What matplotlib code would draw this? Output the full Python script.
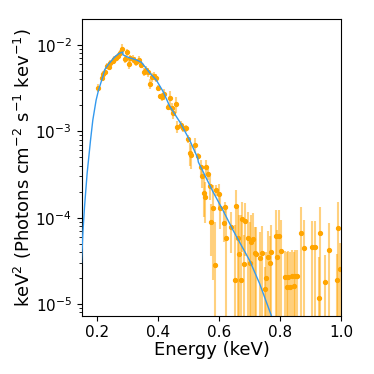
import matplotlib
matplotlib.use("Agg")
import matplotlib.pyplot as plt

# Observed spectrum (keV, keV^2 photons cm^-2 s^-1 keV^-1)
energy = [0.2042, 0.2153, 0.2206, 0.2261, 0.2317, 0.2402, 0.2447, 0.2513, 0.2555, 0.2620,
          0.2696, 0.2774, 0.2826, 0.2914, 0.2989, 0.3055, 0.3100, 0.3185, 0.3241, 0.3296,
          0.3381, 0.3460, 0.3535, 0.3610, 0.3665, 0.3731, 0.3796, 0.3878, 0.3949, 0.4002,
          0.4080, 0.4139, 0.4188, 0.4328, 0.4407, 0.4472, 0.4491, 0.4580, 0.4622, 0.4766,
          0.4818, 0.4929, 0.4981, 0.5037, 0.5092, 0.5200, 0.5308, 0.5419, 0.5451, 0.5494,
          0.5549, 0.5582, 0.5634, 0.5690, 0.5745, 0.5798, 0.5853, 0.5886, 0.5993, 0.6016,
          0.6147, 0.6180, 0.6235, 0.6398, 0.6506, 0.6539, 0.6614, 0.6647, 0.6702, 0.6758,
          0.6800, 0.6856, 0.6940, 0.6996, 0.7051, 0.7104, 0.7159, 0.7215, 0.7345, 0.7411,
          0.7496, 0.7541, 0.7593, 0.7649, 0.7704, 0.7845, 0.7900, 0.7953, 0.8031, 0.8139,
          0.8214, 0.8247, 0.8302, 0.8390, 0.8433, 0.8465, 0.8540, 0.8684, 0.8769, 0.9043,
          0.9128, 0.9259, 0.9304, 0.9468, 0.9585, 0.9847, 0.9892, 0.9957]
flux = [3.20e-3, 4.11e-3, 4.58e-3, 4.90e-3, 5.76e-3, 5.60e-3, 6.14e-3, 6.53e-3, 6.88e-3, 7.13e-3,
        7.52e-3, 8.01e-3, 8.99e-3, 6.88e-3, 8.23e-3, 5.98e-3, 7.01e-3, 6.88e-3, 6.53e-3, 6.30e-3,
        6.70e-3, 5.94e-3, 4.86e-3, 5.13e-3, 4.83e-3, 3.53e-3, 4.26e-3, 4.43e-3, 4.18e-3, 3.15e-3,
        2.56e-3, 2.50e-3, 2.68e-3, 1.93e-3, 2.45e-3, 1.85e-3, 1.62e-3, 2.06e-3, 1.13e-3, 1.18e-3,
        1.08e-3, 1.08e-3, 8.25e-4, 5.65e-4, 5.31e-4, 6.94e-4, 5.13e-4, 3.89e-4, 3.03e-4, 1.94e-4,
        1.72e-4, 3.89e-4, 3.20e-4, 2.32e-4, 8.96e-5, 1.28e-4, 2.82e-5, 2.09e-4, 1.88e-4, 1.28e-4,
        8.59e-5, 1.32e-4, 5.76e-5, 7.84e-5, 1.89e-5, 1.36e-4, 5.76e-5, 3.79e-5, 1.89e-5, 9.56e-5,
        2.90e-5, 9.21e-5, 5.76e-5, 2.95e-5, 5.26e-5, 5.60e-5, 3.86e-5, 3.79e-5, 3.38e-5, 3.92e-5,
        1.48e-5, 1.98e-5, 3.47e-5, 3.00e-5, 4.03e-5, 6.12e-5, 3.52e-5, 6.12e-5, 4.13e-5, 2.07e-5,
        1.58e-5, 2.07e-5, 1.58e-5, 2.10e-5, 1.61e-5, 2.10e-5, 2.10e-5, 6.58e-5, 4.41e-5, 4.53e-5,
        4.53e-5, 1.19e-5, 6.58e-5, 1.81e-5, 4.21e-5, 1.89e-5, 7.52e-5, 2.52e-5]
flux_err = [3.2e-4, 3.3e-4, 3.7e-4, 3.9e-4, 4.6e-4, 4.5e-4, 4.9e-4, 5.2e-4, 5.5e-4, 5.7e-4,
            6.0e-4, 6.4e-4, 1.17e-3, 6.9e-4, 8.2e-4, 7.2e-4, 7.0e-4, 6.9e-4, 6.5e-4, 6.3e-4,
            6.7e-4, 5.9e-4, 4.9e-4, 6.2e-4, 5.8e-4, 4.6e-4, 5.1e-4, 4.4e-4, 4.2e-4, 2.5e-4,
            1.8e-4, 2.5e-4, 4.0e-4, 1.7e-4, 4.9e-4, 2.8e-4, 2.4e-4, 4.1e-4, 1.7e-4, 1.2e-4,
            1.1e-4, 1.1e-4, 8.3e-5, 1.7e-4, 1.6e-4, 1.4e-4, 5.1e-5, 8.0e-5, 8.5e-5, 9.1e-5,
            8.6e-5, 7.8e-5, 4.8e-5, 7.0e-5, 5.4e-5, 1.09e-4, 6.2e-5, 2.9e-5, 5.6e-5, 5.4e-5,
            3.4e-5, 2.0e-5, 7.0e-5, 3.9e-5, 6.3e-5, 7.3e-5, 8.2e-5, 6.9e-5, 8.8e-5, 5.6e-5,
            3.4e-5, 5.6e-5, 6.0e-5, 5.9e-5, 5.4e-5, 5.8e-5, 4.0e-5, 4.0e-5, 3.5e-5, 4.0e-5,
            1.2e-5, 2.0e-5, 3.6e-5, 3.1e-5, 4.1e-5, 6.3e-5, 3.7e-5, 6.3e-5, 5.3e-5, 2.1e-5,
            2.4e-5, 2.1e-5, 2.4e-5, 2.1e-5, 2.4e-5, 2.1e-5, 2.1e-5, 6.8e-5, 5.0e-5, 4.6e-5,
            4.6e-5, 2.3e-5, 6.7e-5, 1.9e-5, 4.4e-5, 1.9e-5, 7.7e-5, 2.6e-5]
energy_halfwidth = 0.004

# Folded model curve
model_energy = [0.1500, 0.1543, 0.1598, 0.1683, 0.1794, 0.1869, 0.1977, 0.2056, 0.2196, 0.2261,
                0.2400, 0.2588, 0.2720, 0.2850, 0.2855, 0.3020, 0.3300, 0.3460, 0.3730, 0.3950,
                0.4165, 0.4384, 0.4710, 0.5037, 0.5300, 0.5320, 0.5798, 0.6124, 0.6451, 0.6996,
                0.7322, 0.7704, 0.8000]
model_flux = [3.0e-5, 6.6e-5, 1.34e-4, 3.26e-4, 7.9e-4, 1.35e-3, 2.3e-3, 3.0e-3, 4.3e-3, 5.2e-3,
              6.1e-3, 7.3e-3, 7.95e-3, 8.3e-3, 7.7e-3, 7.2e-3, 6.7e-3, 6.3e-3, 4.75e-3, 3.9e-3,
              2.9e-3, 1.95e-3, 1.29e-3, 7.9e-4, 4.9e-4, 4.4e-4, 2.0e-4, 1.22e-4, 7.2e-5, 3.2e-5,
              1.73e-5, 7.4e-6, 4.0e-6]

fig = plt.figure(figsize=(3.74, 3.74), dpi=100)
ax = fig.add_axes([0.218, 0.156, 0.695, 0.792])

ax.errorbar(energy, flux, yerr=flux_err, xerr=energy_halfwidth, fmt='o', ms=2.8,
            color='orange', ecolor=(1.0, 0.647, 0.0, 0.5), elinewidth=1.5, capsize=0, zorder=2)
ax.plot(model_energy, model_flux, color='#3399ee', lw=1.0, zorder=3)

ax.set_yscale('log')
ax.set_xlim(0.15, 1.0)
ax.set_ylim(7.34e-6, 1.975e-2)
ax.set_xticks([0.2, 0.4, 0.6, 0.8, 1.0])
ax.tick_params(axis='both', labelsize=11)
ax.set_xlabel('Energy (keV)', fontsize=13, labelpad=0.5)
ax.set_ylabel(r'keV$^2$ (Photons cm$^{-2}$ s$^{-1}$ kev$^{-1}$)', fontsize=13, labelpad=0.5)

fig.savefig('out.png', dpi=100)
